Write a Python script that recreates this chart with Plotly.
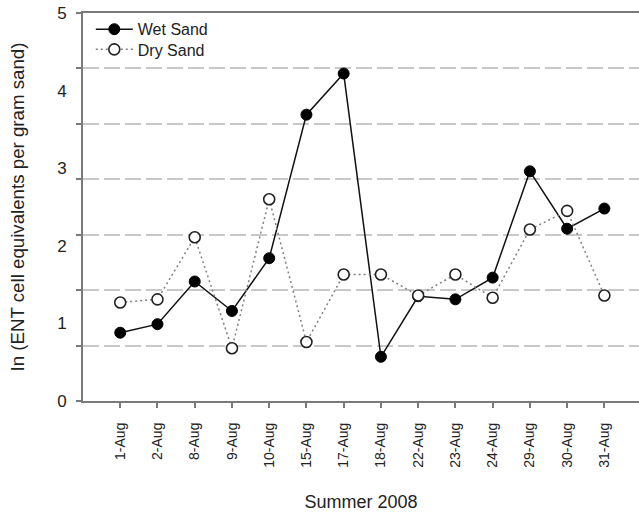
import plotly.graph_objects as go

# Sampling dates (Summer 2008)
dates = ["1-Aug", "2-Aug", "8-Aug", "9-Aug", "10-Aug", "15-Aug", "17-Aug",
         "18-Aug", "22-Aug", "23-Aug", "24-Aug", "29-Aug", "30-Aug", "31-Aug"]

# ln(ENT cell equivalents per gram sand)
wet_sand = [0.88, 0.99, 1.54, 1.16, 1.84, 3.69, 4.22,
            0.57, 1.35, 1.31, 1.59, 2.96, 2.22, 2.48]
dry_sand = [1.27, 1.31, 2.11, 0.68, 2.60, 0.76, 1.63,
            1.63, 1.36, 1.63, 1.33, 2.21, 2.45, 1.36]

y_labels = [0, 1, 2, 3, 4, 5]
grid_steps = 7  # dashed reference lines divide the axis into 7 bands

FONT = "Arial, Liberation Sans, sans-serif"
AXIS_GREY = "#7a7a7a"
TEXT = "#222222"

fig = go.Figure()

fig.add_trace(go.Scatter(
    x=dates, y=wet_sand, name="Wet Sand", mode="lines+markers",
    line=dict(color="#111111", width=1.5),
    marker=dict(symbol="circle", size=11, color="#000000",
                line=dict(color="#000000", width=1)),
    xaxis="x", yaxis="y", legend="legend",
))

fig.add_trace(go.Scatter(
    x=dates, y=dry_sand, name="Dry Sand", mode="lines+markers",
    line=dict(color="#808080", width=1.5, dash="2px,3px"),
    marker=dict(symbol="circle", size=11, color="#ffffff",
                line=dict(color="#222222", width=1.6)),
    xaxis="x", yaxis="y2", legend="legend2",
))

y_max = y_labels[-1]
grid_vals = [y_max * k / grid_steps for k in range(grid_steps + 1)]

legend_style = dict(
    xanchor="left", yanchor="middle",
    bgcolor="rgba(0,0,0,0)", borderwidth=0,
    font=dict(family=FONT, size=16, color=TEXT),
    itemwidth=37,
)

fig.update_layout(
    width=639, height=518,
    margin=dict(l=83, r=0, t=13, b=117),
    paper_bgcolor="white", plot_bgcolor="white",
    font=dict(family=FONT, color=TEXT),
    showlegend=True,
    legend=dict(x=0.014, y=0.958, **legend_style),
    legend2=dict(x=0.014, y=0.906, **legend_style),
    xaxis=dict(
        type="category", range=[-1, 13.93],
        showline=True, linecolor=AXIS_GREY, linewidth=2, mirror=True,
        ticks="outside", ticklen=5, tickwidth=1.5, tickcolor=AXIS_GREY,
        tickangle=-90, ticklabelstandoff=9,
        tickfont=dict(family=FONT, size=14, color=TEXT),
        showgrid=False, zeroline=False, automargin=False,
        title=dict(text="Summer 2008", standoff=29,
                   font=dict(family=FONT, size=18, color=TEXT)),
    ),
    yaxis=dict(
        range=[0, y_max],
        tickmode="array", tickvals=grid_vals,
        ticktext=[""] * len(grid_vals),
        ticks="outside", ticklen=5, tickwidth=1.5, tickcolor=AXIS_GREY,
        showline=True, linecolor=AXIS_GREY, linewidth=2,
        showgrid=True, gridcolor="#c8c8c8", gridwidth=1.6,
        griddash="16px,5px",
        zeroline=False, automargin=False,
    ),
    yaxis2=dict(
        overlaying="y", side="left", range=[0, y_max],
        tickmode="array", tickvals=y_labels,
        ticktext=[str(v) for v in y_labels],
        ticks="outside", ticklen=12, tickcolor="rgba(0,0,0,0)",
        tickfont=dict(family=FONT, size=17, color=TEXT),
        showline=False, showgrid=False, zeroline=False, automargin=False,
        title=dict(text="In (ENT cell equivalents per gram sand)", standoff=27,
                   font=dict(family=FONT, size=18.7, color=TEXT)),
    ),
)

fig.write_html("out.html")
